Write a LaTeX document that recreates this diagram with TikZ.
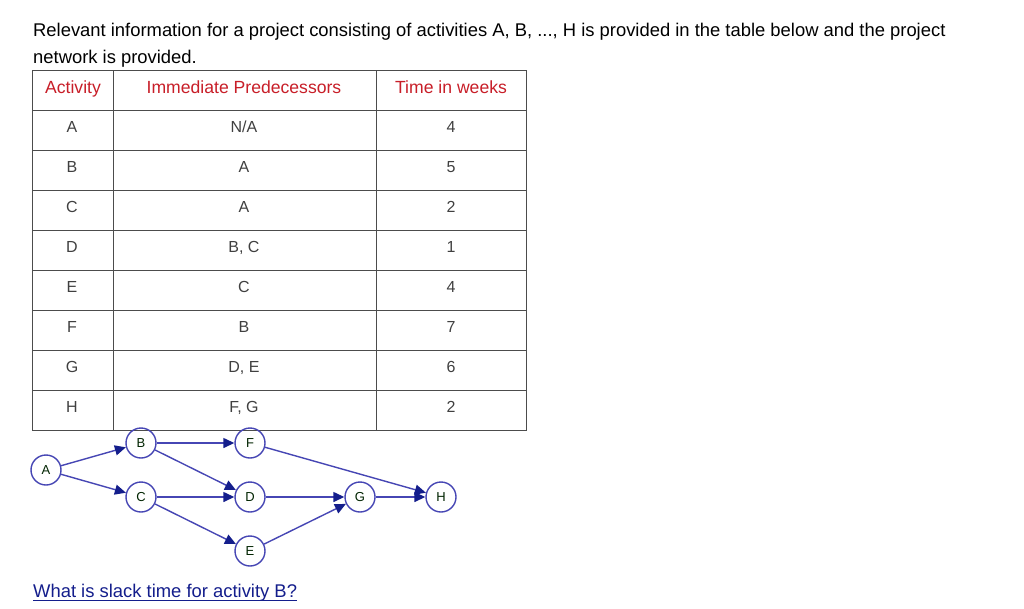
\documentclass[tikz,border=0pt]{standalone}
\usepackage{fontspec}
\setmainfont{Liberation Sans}
\usetikzlibrary{arrows.meta}
\definecolor{hd}{RGB}{200,30,40}
\definecolor{nb}{RGB}{70,70,180}
\definecolor{lk}{RGB}{20,30,140}
\begin{document}
\begin{tikzpicture}[x=1pt,y=-1pt,
  tx/.style={font=\fontsize{18.4}{21}\selectfont,anchor=base west,inner sep=0},
  th/.style={font=\fontsize{17.6}{20}\selectfont,text=hd,inner sep=0,anchor=base},
  tc/.style={font=\fontsize{16}{18}\selectfont,text=black!75,inner sep=0,anchor=base},
  ev/.style={circle,draw=nb,line width=1.4pt,minimum size=30pt,inner sep=0,font=\fontsize{13}{14}\selectfont,text=black!65!green!40!black},
  ar/.style={draw=nb,line width=1.4pt,-{Triangle[length=11pt,width=10pt,color=lk]}}]
\useasboundingbox (0,0) rectangle (1024,608);
\fill[white] (0,0) rectangle (1024,608);
\node[tx] (t1) at (33,36) {Relevant information for a project consisting of activities A, B, ..., H is provided in the table below and the project};
\node[tx] (t2) at (33,63) {network is provided.};
% table
\draw[black!70,line width=0.6pt] (32,70) rectangle (526,430);
\foreach \yy in {110,150,190,230,270,310,350,390} \draw[black!70,line width=0.6pt] (32,\yy) -- (526,\yy);
\draw[black!70,line width=0.6pt] (113,70) -- (113,430) (376,70) -- (376,430);
\node[th] (h1) at (73,93) {Activity};
\node[th] (h2) at (244,93) {Immediate Predecessors};
\node[th] (h3) at (451,93) {Time in weeks};
\foreach \a/\p/\t [count=\i] in {A/N\slash A/4,B/A/5,C/A/2,D/{B, C}/1,E/C/4,F/B/7,G/{D, E}/6,H/{F, G}/2}{
  \node[tc] (a\i) at (72,{92.5+40*\i}) {\a};
  \node[tc] (p\i) at (244,{92.5+40*\i}) {\p};
  \node[tc] (w\i) at (451,{92.5+40*\i}) {\t};
}
% network
\node[ev] (A) at (46,470) {A};
\node[ev] (B) at (141,443) {B};
\node[ev] (C) at (141,497) {C};
\node[ev] (F) at (250,443) {F};
\node[ev] (D) at (250,497) {D};
\node[ev] (E) at (250,551) {E};
\node[ev] (G) at (360,497) {G};
\node[ev] (H) at (441,497) {H};
\foreach \s/\e in {A/B,A/C,B/F,B/D,C/D,C/E,F/H,D/G,E/G,G/H} \draw[ar] (\s) -- (\e);
\node[tx,text=lk,anchor=base west] (q) at (33,597) {What is slack time for activity B?};
\draw[lk,line width=0.9pt] (q.south west) ++(0,-1) coordinate (u1) -- (q.south east |- u1) coordinate (u2);
\end{tikzpicture}
\end{document}
